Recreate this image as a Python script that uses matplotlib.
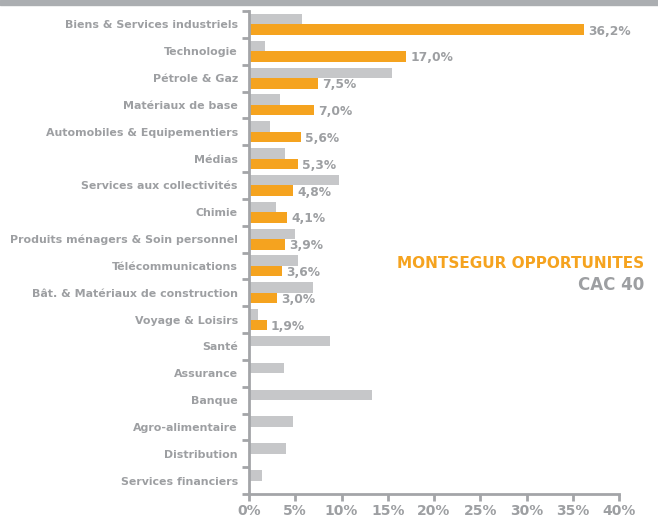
import matplotlib
matplotlib.use("Agg")
import matplotlib.pyplot as plt
import numpy as np
from matplotlib.patches import Rectangle

categories = [
    "Biens & Services industriels", "Technologie", "Pétrole & Gaz", "Matériaux de base",
    "Automobiles & Equipementiers", "Médias", "Services aux collectivités", "Chimie",
    "Produits ménagers & Soin personnel", "Télécommunications",
    "Bât. & Matériaux de construction", "Voyage & Loisirs", "Santé", "Assurance",
    "Banque", "Agro-alimentaire", "Distribution", "Services financiers",
]
montsegur = [36.2, 17.0, 7.5, 7.0, 5.6, 5.3, 4.8, 4.1, 3.9, 3.6, 3.0, 1.9,
             None, None, None, None, None, None]
cac40 = [5.7, 1.7, 15.5, 3.4, 2.3, 3.9, 9.7, 2.9, 5.0, 5.3, 6.9, 1.0,
         8.8, 3.8, 13.3, 4.8, 4.0, 1.4]
xticks = [0, 5, 10, 15, 20, 25, 30, 35, 40]
series_names = ["MONTSEGUR OPPORTUNITES", "CAC 40"]

ORANGE = "#F5A31F"
BARGREY = "#C6C7C9"
TXT = "#9D9FA2"
AXC = "#A3A5A8"

fig = plt.figure(figsize=(6.58, 5.19), dpi=100)
fig.patches.append(Rectangle((0, 1 - 5/519), 1, 5/519, transform=fig.transFigure,
                             color="#ABAEB1", zorder=0))
ax = fig.add_axes([249/658, 25/519, 370/658, 483/519])

y = np.arange(len(categories))
h = 0.39
ax.barh(y - h/2, cac40, height=h, color=BARGREY, zorder=2)
mv = [v if v is not None else 0 for v in montsegur]
ax.barh(y + h/2, mv, height=h, color=ORANGE, zorder=2)
for yi, v in zip(y, montsegur):
    if v is not None:
        ax.annotate(f"{v:.1f}%".replace(".", ","), (v, yi + h/2), xytext=(3, -1),
                    textcoords="offset points", va="center", ha="left",
                    color=TXT, fontsize=8.8, fontweight="bold")

ax.set_xlim(0, 40)
ax.set_ylim(len(categories) - 0.5, -0.5)
ax.set_xticks(xticks)
ax.set_xticklabels([f"{t}%" for t in xticks])
ax.set_yticks(y)
ax.set_yticklabels(categories)
ax.set_yticks(np.arange(-0.5, len(categories), 1), minor=True)
ax.tick_params(axis="y", which="major", length=0, pad=8, labelsize=7.9,
               labelcolor=TXT)
ax.tick_params(axis="y", which="minor", length=5, width=2, color=AXC, direction="out")
ax.tick_params(axis="x", length=5, width=2, color=AXC, pad=2.5, labelsize=10,
               labelcolor=TXT)
for lab in ax.get_yticklabels() + ax.get_xticklabels():
    lab.set_fontweight("bold")
for s in ["top", "right"]:
    ax.spines[s].set_visible(False)
for s in ["left", "bottom"]:
    ax.spines[s].set_color(AXC)
    ax.spines[s].set_linewidth(2)

fig.text(644/658, 1 - 264/519, series_names[0], color=ORANGE, fontsize=11,
         fontweight="bold", ha="right", va="center")
fig.text(644/658, 1 - 285/519, series_names[1], color=TXT, fontsize=12,
         fontweight="bold", ha="right", va="center")

fig.savefig("out.png", dpi=100)
